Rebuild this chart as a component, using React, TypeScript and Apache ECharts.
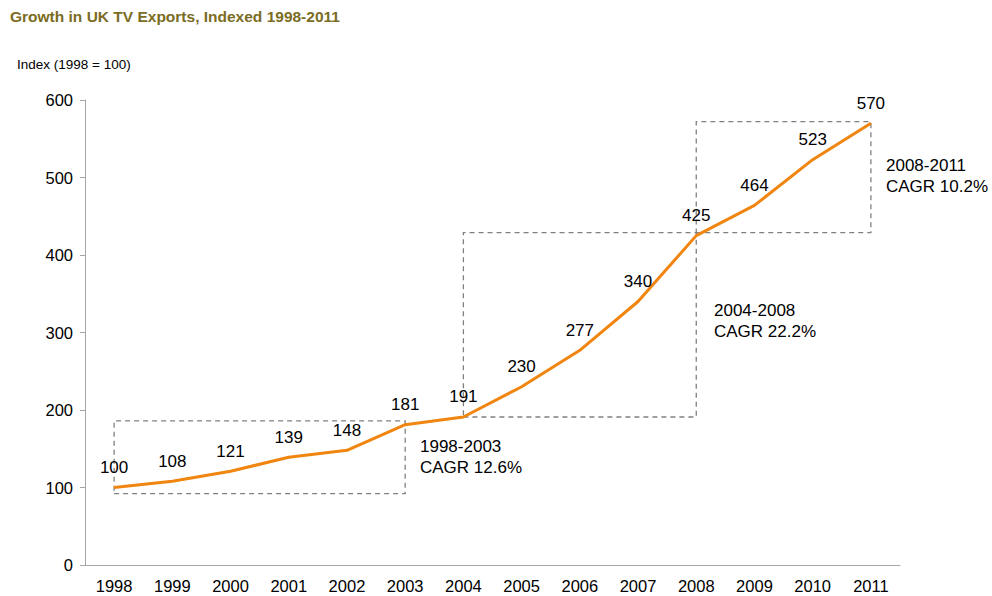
import React, { useEffect, useRef } from "react";
import * as echarts from "echarts";

const years = ["1998","1999","2000","2001","2002","2003","2004","2005","2006","2007","2008","2009","2010","2011"];
const indexValues = [100, 108, 121, 139, 148, 181, 191, 230, 277, 340, 425, 464, 523, 570];
const yTicks = { min: 0, max: 600, interval: 100 };
const periodBoxes = [
  { from: "1998", to: "2003", low: 92, high: 186 },
  { from: "2004", to: "2008", low: 191, high: 429 },
  { from: "2008", to: "2011", low: 429, high: 572 },
];
const cagrNotes = [
  { text: "1998-2003\nCAGR 12.6%", x: 420, y: 436 },
  { text: "2004-2008\nCAGR 22.2%", x: 714, y: 300 },
  { text: "2008-2011\nCAGR 10.2%", x: 886, y: 155 },
];

export default function App() {
  const ref = useRef<HTMLDivElement>(null);
  useEffect(() => {
    if (!ref.current) return;
    const chart = echarts.init(ref.current, undefined, { renderer: "svg" });
    const font = "Arial, 'Liberation Sans', sans-serif";
    chart.setOption({
      animation: false,
      backgroundColor: "#ffffff",
      textStyle: { fontFamily: font },
      grid: { left: 85, right: 92, top: 100, bottom: 31, containLabel: false },
      xAxis: {
        type: "category",
        data: years,
        boundaryGap: true,
        axisLine: { lineStyle: { color: "#a6a6a6", width: 1 } },
        axisTick: { show: false },
        axisLabel: { color: "#000", fontSize: 16.5, margin: 12, fontFamily: font },
        splitLine: { show: false },
      },
      yAxis: {
        type: "value",
        min: yTicks.min,
        max: yTicks.max,
        interval: yTicks.interval,
        axisLine: { show: true, lineStyle: { color: "#a6a6a6", width: 1 } },
        axisTick: { show: true, length: 5, lineStyle: { color: "#a6a6a6" } },
        axisLabel: { color: "#000", fontSize: 16.5, margin: 12, fontFamily: font },
        splitLine: { show: false },
      },
      graphic: [
        {
          type: "text",
          left: 10,
          top: 8,
          style: {
            text: "Growth in UK TV Exports, Indexed 1998-2011",
            fill: "#7b6c23",
            font: `bold 15.5px ${font}`,
          },
        },
        {
          type: "text",
          left: 17,
          top: 57,
          style: { text: "Index (1998 = 100)", fill: "#000", font: `13.5px ${font}` },
        },
        ...cagrNotes.map((n) => ({
          type: "text",
          left: n.x,
          top: n.y,
          style: { text: n.text, fill: "#000", font: `17px ${font}`, lineHeight: 21 },
        })),
      ],
      series: [
        {
          type: "line",
          data: indexValues,
          symbol: "circle",
          symbolSize: 1,
          showSymbol: true,
          lineStyle: { color: "#f0850f", width: 3 },
          itemStyle: { color: "#f0850f" },
          label: {
            show: true,
            position: "top",
            distance: 11,
            color: "#000",
            fontSize: 17,
            fontFamily: font,
          },
          markArea: {
            silent: true,
            itemStyle: {
              color: "rgba(0,0,0,0)",
              borderColor: "#808080",
              borderWidth: 1.3,
              borderType: [5, 4],
            },
            label: { show: false },
            data: periodBoxes.map((b) => [
              { coord: [b.from, b.low] },
              { coord: [b.to, b.high] },
            ]),
          },
        },
      ],
    });
    return () => chart.dispose();
  }, []);
  return <div ref={ref} style={{ width: 992, height: 596, position: "absolute", left: 0, top: 0 }} />;
}
